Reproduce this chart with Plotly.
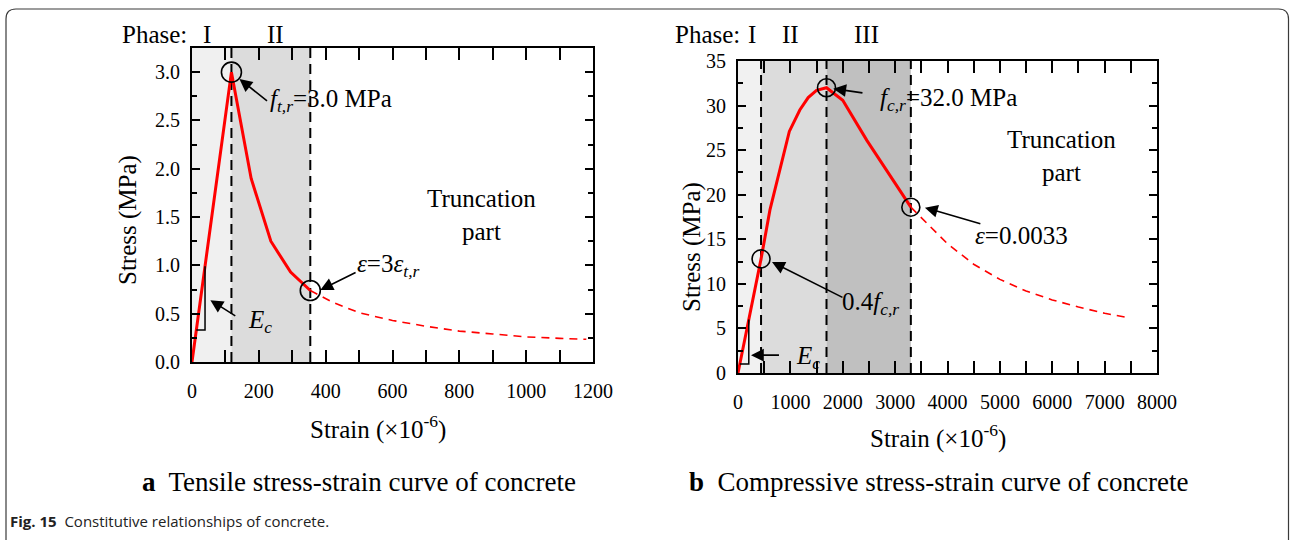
import plotly.graph_objects as go

# ---------------- data ----------------
# tension (panel a), strain in 1e-6, stress in MPa
t_strain = [0, 118, 177, 236, 295, 354]
t_stress = [0, 3.0, 1.90, 1.25, 0.93, 0.74]
t_trunc_strain = [354, 420, 500, 600, 700, 800, 900, 1000, 1100, 1180]
t_trunc_stress = [0.74, 0.62, 0.51, 0.43, 0.37, 0.32, 0.29, 0.26, 0.245, 0.235]
t_phase_edges = [0, 118, 354]
t_phase_labels = ["I", "II"]
t_ec_strain = [13, 39, 39]
t_ec_stress = [0.33, 0.33, 0.99]

# compression (panel b)
c_strain = [0, 440, 610, 800, 980, 1180, 1340, 1500, 1690, 2000, 2460, 3300]
c_stress = [0, 12.8, 18.3, 23.0, 27.1, 29.5, 30.9, 31.7, 32.0, 30.6, 26.1, 18.6]
c_trunc_strain = [3300, 3600, 4000, 4500, 5000, 5500, 6000, 6500, 7000, 7450]
c_trunc_stress = [18.6, 16.8, 14.5, 12.2, 10.5, 9.2, 8.2, 7.4, 6.7, 6.2]
c_phase_edges = [0, 440, 1690, 3300]
c_phase_labels = ["I", "II", "III"]
c_ec_strain = [34, 206, 206]
c_ec_stress = [1.0, 1.0, 6.0]

t_xticks = list(range(0, 1201, 100))
c_xticks = list(range(0, 8001, 500))

W, H = 1290, 540
SERIF = "Liberation Serif"
RED = "#ff0000"


def px(x):
    return x / W


def py(y):
    return 1 - y / H


fig = go.Figure()

# curves
fig.add_trace(go.Scatter(x=t_strain, y=t_stress, mode="lines",
                         line=dict(color=RED, width=3), xaxis="x", yaxis="y"))
fig.add_trace(go.Scatter(x=t_trunc_strain, y=t_trunc_stress, mode="lines",
                         line=dict(color=RED, width=1.6, dash="8px,6px"), xaxis="x", yaxis="y"))
fig.add_trace(go.Scatter(x=t_ec_strain, y=t_ec_stress, mode="lines",
                         line=dict(color="black", width=1.5), xaxis="x", yaxis="y"))
fig.add_trace(go.Scatter(x=c_strain, y=c_stress, mode="lines",
                         line=dict(color=RED, width=3), xaxis="x2", yaxis="y2"))
fig.add_trace(go.Scatter(x=c_trunc_strain, y=c_trunc_stress, mode="lines",
                         line=dict(color=RED, width=1.6, dash="8px,6px"), xaxis="x2", yaxis="y2"))
fig.add_trace(go.Scatter(x=c_ec_strain, y=c_ec_stress, mode="lines",
                         line=dict(color="black", width=1.5), xaxis="x2", yaxis="y2"))

shapes = []
# phase shading
t_fills = ["#f0f0f0", "#dcdcdc"]
for i in range(len(t_phase_edges) - 1):
    shapes.append(dict(type="rect", xref="x", yref="y domain", x0=t_phase_edges[i],
                       x1=t_phase_edges[i + 1], y0=0, y1=1, fillcolor=t_fills[i],
                       line=dict(width=0), layer="below"))
c_fills = ["#f1f1f1", "#dcdcdc", "#c0c0c0"]
for i in range(len(c_phase_edges) - 1):
    shapes.append(dict(type="rect", xref="x2", yref="y2 domain", x0=c_phase_edges[i],
                       x1=c_phase_edges[i + 1], y0=0, y1=1, fillcolor=c_fills[i],
                       line=dict(width=0), layer="below"))
# phase boundaries
for xv in t_phase_edges[1:]:
    shapes.append(dict(type="line", xref="x", yref="y domain", x0=xv, x1=xv, y0=0, y1=1,
                       line=dict(color="black", width=2, dash="10px,6px"), layer="below"))
for xv in c_phase_edges[1:]:
    shapes.append(dict(type="line", xref="x2", yref="y2 domain", x0=xv, x1=xv, y0=0, y1=1,
                       line=dict(color="black", width=2, dash="10px,6px"), layer="below"))

# marker circles
def ring(xref, yref, xv, yv, r=10):
    return dict(type="circle", xref=xref, yref=yref, xsizemode="pixel", ysizemode="pixel",
                xanchor=xv, yanchor=yv, x0=-r, x1=r, y0=-r, y1=r,
                line=dict(color="black", width=1.6), fillcolor="rgba(0,0,0,0)")

shapes.append(ring("x", "y", t_strain[1], t_stress[1]))
shapes.append(ring("x", "y", t_strain[-1], t_stress[-1]))
shapes.append(ring("x2", "y2", c_strain[8], c_stress[8], 9))
shapes.append(ring("x2", "y2", c_strain[-1], c_stress[-1], 9))
shapes.append(ring("x2", "y2", c_strain[1], c_stress[1], 9))

# outer frame with rounded corners
x0, x1 = px(6), px(1288.5)
y0, y1 = py(545), py(9)
rx, ry = 10 / W, 10 / H
frame = (f"M {x0},{y0} L {x0},{y1 - ry} Q {x0},{y1} {x0 + rx},{y1} "
         f"L {x1 - rx},{y1} Q {x1},{y1} {x1},{y1 - ry} L {x1},{y0}")
shapes.append(dict(type="path", xref="paper", yref="paper", path=frame,
                   line=dict(color="#3a3a3a", width=1.2)))

ann = []


def text(x, y, s, size=25, xref="x", yref="y", xanchor="center", yanchor="middle", **kw):
    ann.append(dict(x=x, y=y, xref=xref, yref=yref, text=s, showarrow=False,
                    xanchor=xanchor, yanchor=yanchor,
                    font=dict(family=SERIF, size=size, color="black"), **kw))


def arrow(xh, yh, xt, yt, xref="x", yref="y"):
    ann.append(dict(x=xh, y=yh, ax=xt, ay=yt, xref=xref, yref=yref, axref=xref, ayref=yref,
                    text="", showarrow=True, arrowhead=2, arrowsize=1.6, arrowwidth=1.6,
                    arrowcolor="black", standoff=0, startstandoff=0))


# panel a annotations
text(228, 2.71, "<i>f</i><sub><i>t,r</i></sub>=3.0 MPa", xanchor="left")
arrow(142, 2.93, 229, 2.69)
text(867, 1.525, "Truncation<br>part")
text(489, 1.0, "<i>ε</i>=3<i>ε</i><sub><i>t,r</i></sub>", xanchor="left")
arrow(384, 0.745, 494, 0.934)
text(204, 0.42, "<i>E</i><sub><i>c</i></sub>")
arrow(55, 0.64, 134, 0.468)

# panel b annotations
text(2672, 30.7, "<i>f</i><sub><i>c,r</i></sub>=32.0 MPa", xref="x2", yref="y2", xanchor="left")
arrow(1819, 31.9, 2405, 31.4, "x2", "y2")
text(6183, 24.3, "Truncation<br>part", xref="x2", yref="y2")
text(5420, 15.4, "<i>ε</i>=0.0033", xref="x2", yref="y2")
arrow(3569, 18.55, 4656, 16.7, "x2", "y2")
text(1947, 7.85, "0.4<i>f</i><sub><i>c,r</i></sub>", xref="x2", yref="y2", xanchor="left")
arrow(649, 12.45, 2023, 8.4, "x2", "y2")
text(1336, 1.7, "<i>E</i><sub><i>c</i></sub>", xref="x2", yref="y2")
arrow(248, 2.0, 811, 2.0, "x2", "y2")

# phase headings
text(px(189), py(35), "Phase:", xref="paper", yref="paper", xanchor="right")
for lbl, xc in zip(t_phase_labels, [45, 250]):
    text(xc, py(35), lbl, xref="x", yref="paper")
text(px(742), py(35), "Phase:", xref="paper", yref="paper", xanchor="right")
for lbl, xc in zip(c_phase_labels, [261, 1000, 2460]):
    text(xc, py(35), lbl, xref="x2", yref="paper")

# axis titles
text(px(128), py(220), "Stress (MPa)", xref="paper", yref="paper", textangle=-90)
text(px(692), py(247), "Stress (MPa)", xref="paper", yref="paper", textangle=-90)
text(px(378), py(427), "Strain (×10<sup>-6</sup>)", xref="paper", yref="paper")
text(px(938), py(436), "Strain (×10<sup>-6</sup>)", xref="paper", yref="paper")

# captions
text(px(359), py(482), "<b>a</b>  Tensile stress-strain curve of concrete", size=27,
     xref="paper", yref="paper")
text(px(938), py(482), "<b>b</b>  Compressive stress-strain curve of concrete", size=27,
     xref="paper", yref="paper")
ann.append(dict(x=px(8), y=py(521), xref="paper", yref="paper", showarrow=False,
                xanchor="left", yanchor="middle",
                text="<b>Fig. 15</b>  Constitutive relationships of concrete.",
                font=dict(family="Open Sans", size=15, color="#222")))

axis_common = dict(showline=True, linecolor="black", linewidth=2, mirror="allticks",
                   ticks="inside", tickcolor="black", tickwidth=1.5, showgrid=False,
                   zeroline=False, automargin=False,
                   tickfont=dict(family=SERIF, size=20, color="black"))

fig.update_layout(
    width=W, height=H, margin=dict(l=0, r=0, t=0, b=0, pad=0, autoexpand=False),
    paper_bgcolor="white", plot_bgcolor="white", showlegend=False,
    shapes=shapes, annotations=ann,
    xaxis=dict(domain=[px(192), px(593)], range=[0, 1200], anchor="y",
               tickvals=t_xticks, ticktext=[str(v) if v % 200 == 0 else "" for v in t_xticks],
               ticklen=12, ticklabelstandoff=10, **axis_common),
    yaxis=dict(domain=[py(362), py(48)], range=[0, 3.25], anchor="x",
               dtick=0.5, tick0=0, tickformat=".1f", ticklen=8, ticklabelstandoff=6,
               minor=dict(dtick=0.25, ticklen=5, ticks="inside", tickcolor="black", tickwidth=1.5),
               **axis_common),
    xaxis2=dict(domain=[px(738), px(1157)], range=[0, 8000], anchor="y2",
                tickvals=c_xticks, ticktext=[str(v) if v % 1000 == 0 else "" for v in c_xticks],
                ticklen=12, ticklabelstandoff=10, **axis_common),
    yaxis2=dict(domain=[py(373), py(61)], range=[0, 35], anchor="x2",
                dtick=5, tick0=0, ticklen=8, ticklabelstandoff=6,
                minor=dict(dtick=2.5, ticklen=5, ticks="inside", tickcolor="black", tickwidth=1.5),
                **axis_common),
)

fig.write_html("out.html")
